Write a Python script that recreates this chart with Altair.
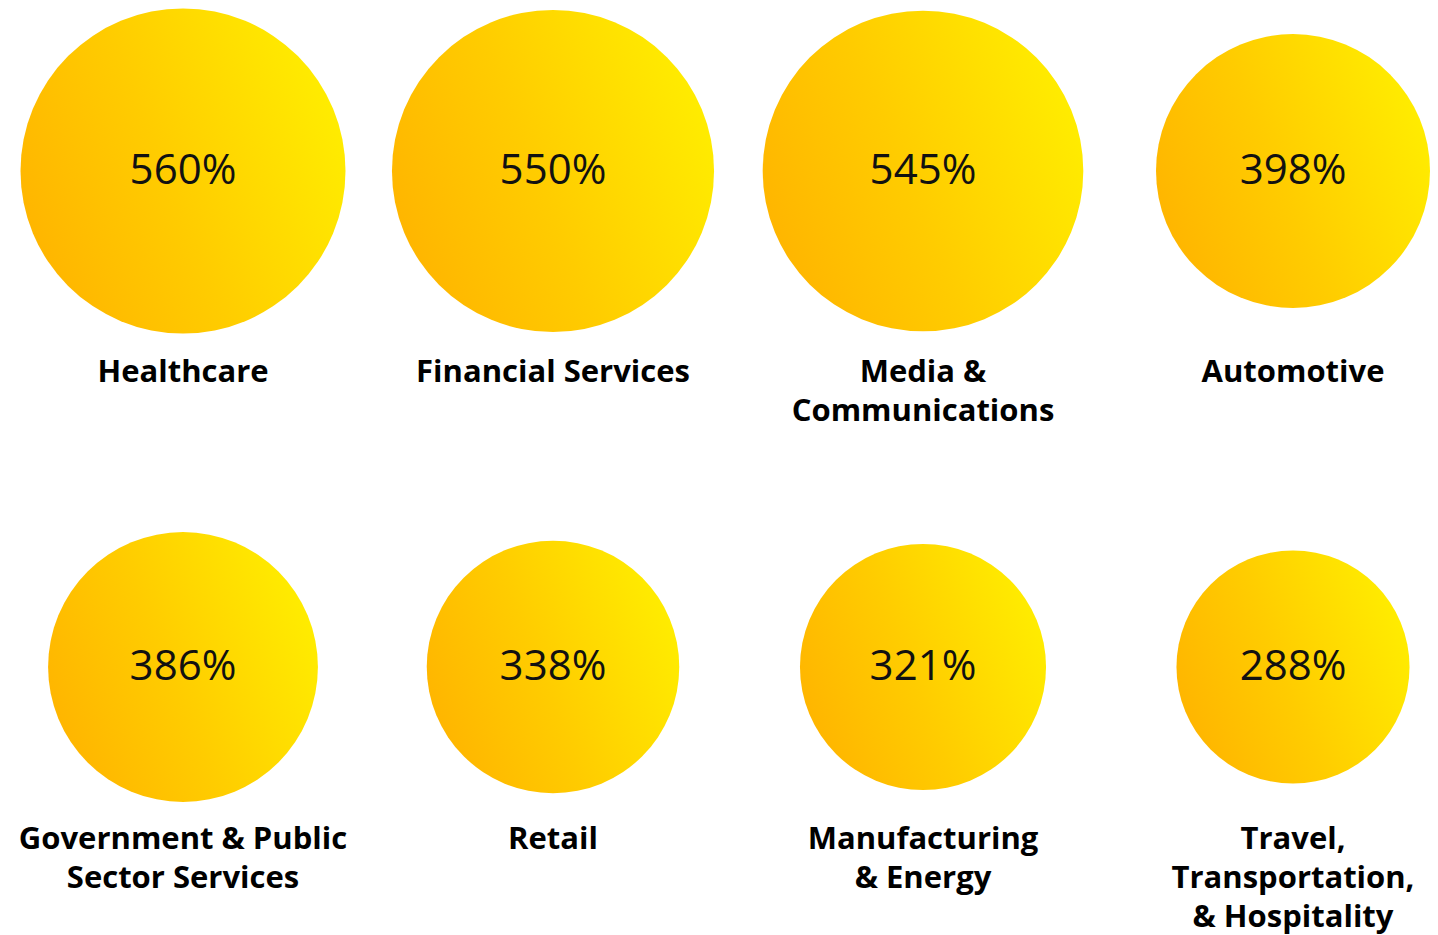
import altair as alt
import pandas as pd

industries = [
    "Healthcare",
    "Financial Services",
    "Media &\nCommunications",
    "Automotive",
    "Government & Public\nSector Services",
    "Retail",
    "Manufacturing\n& Energy",
    "Travel,\nTransportation,\n& Hospitality",
]
values = [560, 550, 545, 398, 386, 338, 321, 288]
n_cols = 4

df = pd.DataFrame({"industry": industries, "value": values})
df["col"] = [i % n_cols for i in range(len(df))]
df["row"] = [i // n_cols for i in range(len(df))]
df["label"] = [f"{v}%" for v in values]

W, H = 1422, 927

x_enc = alt.X("col:Q", axis=None,
              scale=alt.Scale(domain=[-0.47297, 3.37027], nice=False, zero=False))
y_enc = alt.Y("row:Q", axis=None,
              scale=alt.Scale(domain=[-0.32863, 1.54032], nice=False, zero=False, reverse=True))

gradient = alt.LinearGradient(
    gradient="linear",
    stops=[alt.GradientStop(color="#FFB400", offset=0),
           alt.GradientStop(color="#FFCC00", offset=0.45),
           alt.GradientStop(color="#FFEE00", offset=1)],
    x1=0, y1=0.7, x2=1, y2=0.3,
)

base = alt.Chart(df).encode(x=x_enc, y=y_enc)

circles = base.mark_circle(opacity=1, color=gradient).encode(
    size=alt.Size("value:Q", legend=None,
                  scale=alt.Scale(domain=[0, 560], range=[0, 105625], zero=True))
)

vals = base.mark_text(font="Open Sans", fontSize=42, fontWeight="normal",
                      color="#111111", baseline="middle", align="center").encode(
    text="label:N"
)

labels_top = base.transform_filter("datum.row == 0").mark_text(
    font="Open Sans", fontSize=31, fontWeight="bold", color="#000000",
    baseline="top", align="center", lineBreak="\n", lineHeight=39, dy=187
).encode(text="industry:N")

labels_bottom = base.transform_filter("datum.row == 1").mark_text(
    font="Open Sans", fontSize=31, fontWeight="bold", color="#000000",
    baseline="top", align="center", lineBreak="\n", lineHeight=39, dy=158
).encode(text="industry:N")

chart = alt.layer(circles, vals, labels_top, labels_bottom).properties(
    width=W, height=H, padding=0, autosize=alt.AutoSizeParams(type="none")
).configure_view(stroke=None)

chart.save("out.html", embed_options={"renderer": "svg", "actions": False})
